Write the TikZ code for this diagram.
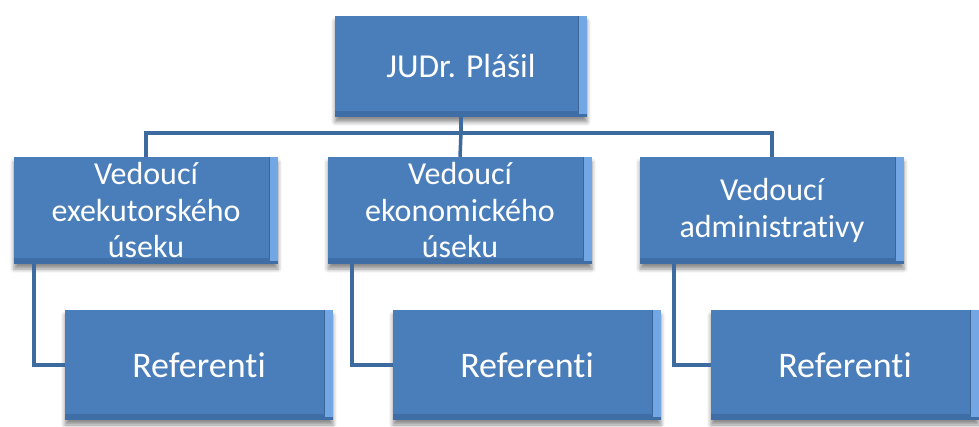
\documentclass[tikz,border=0pt]{standalone}
\usepackage{fontspec}
\setmainfont{Carlito}[Ligatures={NoCommon}, RawFeature={-liga;-clig}]
\usetikzlibrary{shadows.blur}
\definecolor{boxblue}{HTML}{4A7EBB}
\definecolor{bevlight}{HTML}{72A6E4}
\definecolor{bevdark}{HTML}{3F6DA6}
\definecolor{linkblue}{HTML}{3D6B9F}
\begin{document}
\begin{tikzpicture}[x=1pt,y=-1pt,
  orgbox/.style={draw=none, fill=boxblue, text=white, align=center, inner sep=0pt,
    blur shadow={shadow xshift=0pt, shadow yshift=-5pt, shadow blur radius=4pt, shadow opacity=45},
    path picture={
      \fill[bevdark] (path picture bounding box.south west) rectangle ([yshift=6pt]path picture bounding box.south east);
      \fill[bevlight] ([xshift=-8pt]path picture bounding box.north east) rectangle ([yshift=3pt]path picture bounding box.south east);
      \fill[boxblue!80!black] ([xshift=-9pt]path picture bounding box.north east) rectangle ([xshift=-8pt,yshift=6pt]path picture bounding box.south east);
    }},
  lvlA/.style={orgbox, minimum width=252pt, minimum height=101pt, font=\fontsize{33.5}{40}\selectfont},
  lvlB/.style={orgbox, minimum width=264pt, minimum height=107pt, font=\fontsize{32}{36.5}\selectfont},
  lvlC/.style={orgbox, minimum width=268pt, minimum height=110pt, font=\fontsize{36}{42}\selectfont},
  link/.style={draw=linkblue, line width=3.5pt}]
\useasboundingbox (0,0) rectangle (979,427);
\coordinate (bus) at (461,133);
\node[lvlA] (top) at (461,66.5) {JUDr. Plášil};
\node[lvlB] (b1) at (146,210.5) {Vedoucí\\exekutorského\\úseku};
\node[lvlB] (b2) at (460,210.5) {Vedoucí\\ekonomického\\úseku};
\node[lvlB] (b3) at (772,210.5) {Vedoucí\\administrativy};
\node[lvlC] (r1) at (199,365) {Referenti};
\node[lvlC] (r2) at (527,365) {Referenti};
\node[lvlC] (r3) at (845,365) {Referenti};
\draw[link] (top.south) -- (bus);
\draw[link] (b1.north) |- (bus) -| (b3.north);
\draw[link] (bus) -- (b2.north);
\draw[link] ([xshift=20pt]b1.south west) |- (r1.west);
\draw[link] ([xshift=24pt]b2.south west) |- (r2.west);
\draw[link] ([xshift=34pt]b3.south west) |- (r3.west);
\end{tikzpicture}
\end{document}
